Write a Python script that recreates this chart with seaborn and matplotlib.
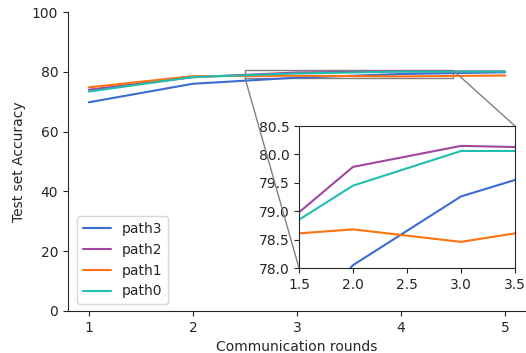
import matplotlib
matplotlib.use("Agg")
import matplotlib.pyplot as plt
import numpy as np
import pandas as pd
import seaborn as sns
from mpl_toolkits.axes_grid1.inset_locator import mark_inset

# Communication rounds (stored as 0-based index, labelled 1..5)
rounds = [0, 1, 2, 3, 4]
round_labels = ["1", "2", "3", "4", "5"]

path3 = [69.8, 76.0, 78.05, 79.26, 79.84]
path2 = [74.0, 78.18, 79.78, 80.15, 80.11]
path1 = [74.8, 78.54, 78.68, 78.46, 78.76]
path0 = [73.4, 78.25, 79.45, 80.06, 80.06]

series_names = ["path3", "path2", "path1", "path0"]
series_values = [path3, path2, path1, path0]
palette = {"path3": "#3a6cd2", "path2": "#a2459e",
           "path1": "#ff7212", "path0": "#1fbfb0"}

df = pd.DataFrame({
    "round": np.tile(rounds, len(series_names)),
    "acc": np.concatenate(series_values),
    "path": np.repeat(series_names, len(rounds)),
})

sns.set_style("ticks")
plt.rcParams["font.family"] = ["DejaVu Sans"]

fig = plt.figure(figsize=(5.26, 3.53), dpi=100)
ax = fig.add_axes([68 / 526, 42 / 353, 458 / 526, 299 / 353])

sns.lineplot(data=df, x="round", y="acc", hue="path", hue_order=series_names,
             palette=palette, linewidth=1.5, ax=ax)
ax.set_ylim(0, 100)
ax.set_xticks(rounds)
ax.set_xticklabels(round_labels)
ax.set_xlabel("Communication rounds")
ax.set_ylabel("Test set Accuracy")
sns.despine(ax=ax)
ax.legend(loc="lower left", bbox_to_anchor=(0.005, 0.0), frameon=True)

# zoomed inset
axins = fig.add_axes([299 / 526, 85 / 353, 216 / 526, 142 / 353])
sns.lineplot(data=df, x="round", y="acc", hue="path", hue_order=series_names,
             palette=palette, linewidth=1.5, ax=axins, legend=False)
axins.set_xlim(1.5, 3.5)
axins.set_ylim(78.0, 80.5)
axins.set_xticks([1.5, 2.0, 2.5, 3.0, 3.5])
axins.set_xlabel("")
axins.set_ylabel("")
mark_inset(ax, axins, loc1=1, loc2=3, fc="none", ec="0.5")

fig.savefig("out.png", dpi=100)
